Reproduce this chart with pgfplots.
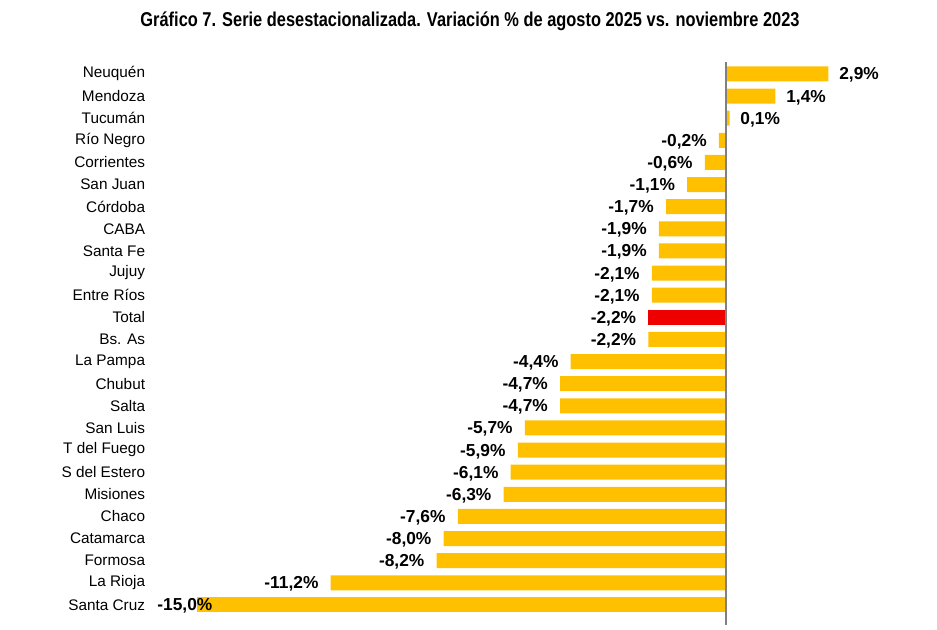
\documentclass[border=0pt]{standalone}
\usepackage{fontspec}
\setmainfont{Liberation Sans}
\newfontfamily\titlefont[FakeStretch=0.82]{Liberation Sans}
\usepackage{pgfplots}
\pgfplotsset{compat=1.18}
\definecolor{barra}{HTML}{FFC000}
\definecolor{rojo}{HTML}{EE0000}
\definecolor{eje}{HTML}{808080}

\pgfplotsset{
  etiq/.style={
    point meta=x,
    nodes near coords={\pgfmathprintnumber[fixed,fixed zerofill,precision=1,use comma,assume math mode=true]{\pgfplotspointmeta}\%},
    every node near coord/.append style={font=\bfseries\fontsize{13}{13}\selectfont, inner sep=0pt, text=black, yshift=-1pt},
  },
}

\begin{document}
\begin{tikzpicture}
\useasboundingbox (-112.5pt,-2.25pt) rectangle (590.25pt,470.25pt);
\begin{axis}[
  scale only axis, width=562.5pt, height=431.4pt,
  xmin=-16.32, xmax=4.93, ymin=-1, ymax=25,
  xbar, bar width=11.25pt, bar shift=0pt,
  axis x line=none,
  axis y line*=left,
  y axis line style={draw=none},
  major tick length=0pt,
  xtick=\empty,
  ytick={0,...,24},
  yticklabels={Santa Cruz, La Rioja, Formosa, Catamarca, Chaco, Misiones, S del Estero, T del Fuego, San Luis, Salta, Chubut, La Pampa, Bs. As, Total, Entre Ríos, Jujuy, Santa Fe, CABA, Córdoba, San Juan, Corrientes, Río Negro, Tucumán, Mendoza, Neuquén},
  yticklabel style={font=\fontsize{11.5}{12}\selectfont, inner sep=3.5pt},
  clip=false,
]
% positivos
\addplot[fill=barra, draw=none, etiq, nodes near coords align={anchor=west},
  every node near coord/.append style={anchor=west, xshift=8pt}]
  coordinates {(2.9,24) (1.4,23) (0.1,22)};
% negativos
\addplot[fill=barra, draw=none, etiq, nodes near coords align={anchor=east},
  every node near coord/.append style={anchor=east, xshift=-9pt}]
  coordinates {(-0.2,21) (-0.6,20) (-1.1,19) (-1.7,18) (-1.9,17) (-1.9,16)
    (-2.1,15) (-2.1,14) (-2.2,12) (-4.4,11) (-4.7,10) (-4.7,9) (-5.7,8)
    (-5.9,7) (-6.1,6) (-6.3,5) (-7.6,4) (-8.0,3) (-8.2,2) (-11.2,1)};
% total
\addplot[fill=rojo, draw=none, etiq, nodes near coords align={anchor=east},
  every node near coord/.append style={anchor=east, xshift=-9pt}]
  coordinates {(-2.2,13)};
% Santa Cruz
\addplot[fill=barra, draw=none, etiq, nodes near coords align={anchor=east},
  every node near coord/.append style={anchor=east, xshift=12pt}]
  coordinates {(-15.0,0)};
\draw[eje, line width=1.1pt] (axis cs:0,-0.9) -- (axis cs:0,24.54);
\end{axis}
\node[font=\titlefont\bfseries\fontsize{15}{15}\selectfont] at (240pt,454pt)
  {Gráfico 7. Serie desestacionalizada. Variación \% de agosto 2025 vs. noviembre 2023};
\end{tikzpicture}
\end{document}
